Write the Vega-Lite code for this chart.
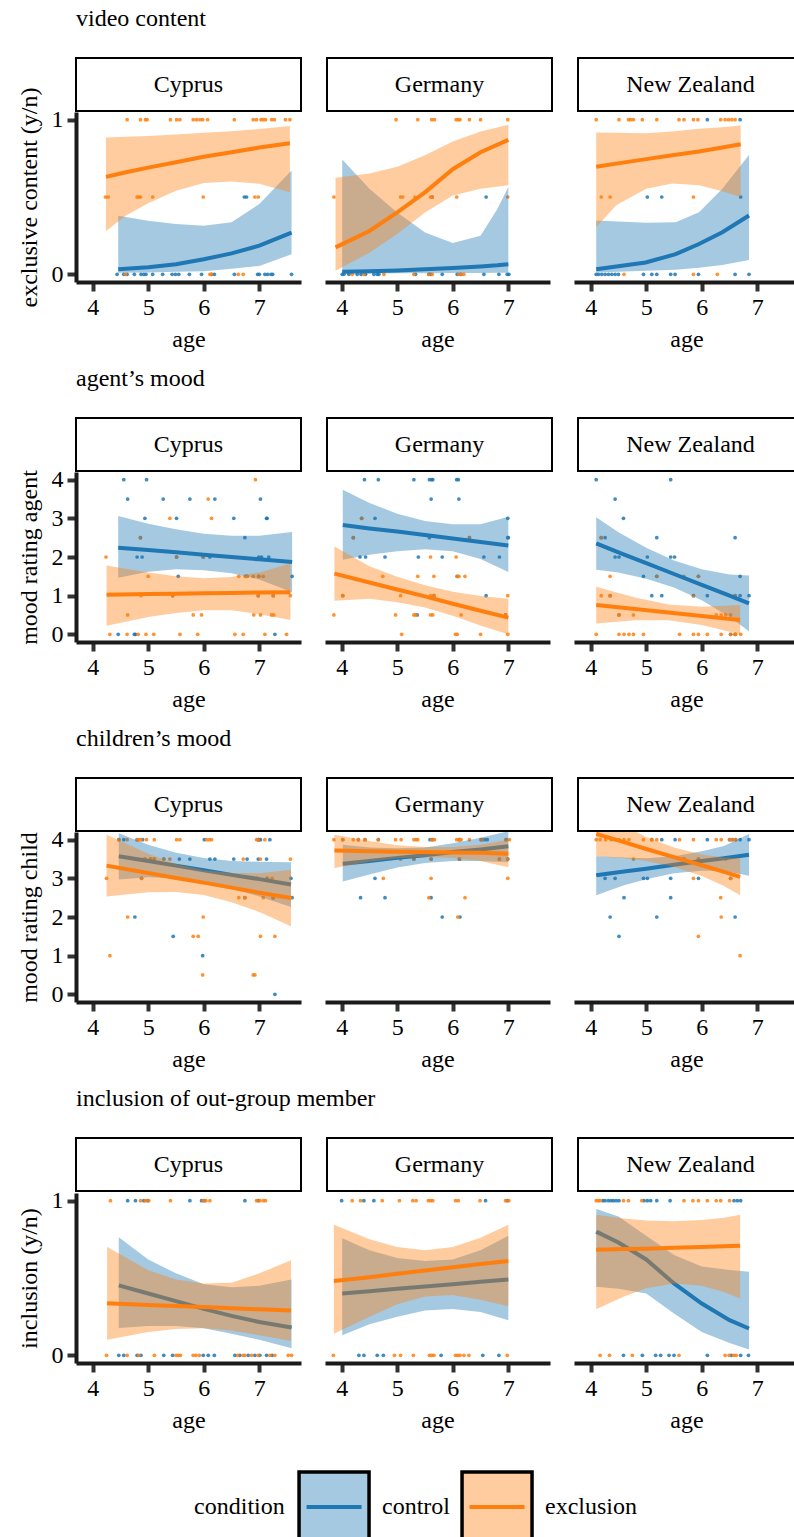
{
"$schema": "https://vega.github.io/schema/vega-lite/v6.json",
"background": "white",
"padding": {"left": 16, "top": 7, "right": 0, "bottom": 0},
"config": {
  "font": "Liberation Serif",
  "view": {"stroke": null},
  "axis": {"labelFont": "Liberation Serif", "labelFontSize": 24, "labelColor": "black", "titleFont": "Liberation Serif", "titleFontSize": 24, "titleFontWeight": "normal", "titleColor": "black", "domainColor": "#1a1a1a", "domainWidth": 4, "tickColor": "#333333", "tickWidth": 4, "tickSize": 9, "grid": false, "labelPadding": 4, "titlePadding": 8, "format": "d"},
  "axisY": {"titlePadding": 10},
  "title": {"font": "Liberation Serif", "fontSize": 24, "fontWeight": "normal", "anchor": "start", "color": "black", "offset": 26, "frame": "group"},
  "text": {"font": "Liberation Serif"}
},
"datasets": {
"d": [
{"m":"video","c":"Cyprus","g":"control","age":6.73,"v":0.5},
{"m":"video","c":"Cyprus","g":"control","age":6.77,"v":0.5},
{"m":"video","c":"Cyprus","g":"control","age":4.44,"v":0},
{"m":"video","c":"Cyprus","g":"control","age":4.56,"v":0},
{"m":"video","c":"Cyprus","g":"control","age":4.62,"v":0},
{"m":"video","c":"Cyprus","g":"control","age":4.75,"v":0},
{"m":"video","c":"Cyprus","g":"control","age":4.87,"v":0},
{"m":"video","c":"Cyprus","g":"control","age":4.92,"v":0},
{"m":"video","c":"Cyprus","g":"control","age":4.96,"v":0},
{"m":"video","c":"Cyprus","g":"control","age":5.08,"v":0},
{"m":"video","c":"Cyprus","g":"control","age":5.26,"v":0},
{"m":"video","c":"Cyprus","g":"control","age":5.43,"v":0},
{"m":"video","c":"Cyprus","g":"control","age":5.49,"v":0},
{"m":"video","c":"Cyprus","g":"control","age":5.55,"v":0},
{"m":"video","c":"Cyprus","g":"control","age":5.74,"v":0},
{"m":"video","c":"Cyprus","g":"control","age":5.96,"v":0},
{"m":"video","c":"Cyprus","g":"control","age":6.14,"v":0},
{"m":"video","c":"Cyprus","g":"control","age":6.19,"v":0},
{"m":"video","c":"Cyprus","g":"control","age":6.55,"v":0},
{"m":"video","c":"Cyprus","g":"control","age":6.97,"v":0},
{"m":"video","c":"Cyprus","g":"control","age":7.00,"v":0},
{"m":"video","c":"Cyprus","g":"control","age":7.10,"v":0},
{"m":"video","c":"Cyprus","g":"control","age":7.15,"v":0},
{"m":"video","c":"Cyprus","g":"control","age":7.21,"v":0},
{"m":"video","c":"Cyprus","g":"control","age":7.24,"v":0},
{"m":"video","c":"Cyprus","g":"control","age":7.58,"v":0},
{"m":"video","c":"Cyprus","g":"exclusion","age":4.62,"v":1},
{"m":"video","c":"Cyprus","g":"exclusion","age":4.86,"v":1},
{"m":"video","c":"Cyprus","g":"exclusion","age":4.95,"v":1},
{"m":"video","c":"Cyprus","g":"exclusion","age":4.98,"v":1},
{"m":"video","c":"Cyprus","g":"exclusion","age":5.40,"v":1},
{"m":"video","c":"Cyprus","g":"exclusion","age":5.51,"v":1},
{"m":"video","c":"Cyprus","g":"exclusion","age":5.57,"v":1},
{"m":"video","c":"Cyprus","g":"exclusion","age":5.81,"v":1},
{"m":"video","c":"Cyprus","g":"exclusion","age":5.87,"v":1},
{"m":"video","c":"Cyprus","g":"exclusion","age":5.93,"v":1},
{"m":"video","c":"Cyprus","g":"exclusion","age":5.98,"v":1},
{"m":"video","c":"Cyprus","g":"exclusion","age":6.07,"v":1},
{"m":"video","c":"Cyprus","g":"exclusion","age":6.55,"v":1},
{"m":"video","c":"Cyprus","g":"exclusion","age":6.89,"v":1},
{"m":"video","c":"Cyprus","g":"exclusion","age":6.95,"v":1},
{"m":"video","c":"Cyprus","g":"exclusion","age":7.03,"v":1},
{"m":"video","c":"Cyprus","g":"exclusion","age":7.07,"v":1},
{"m":"video","c":"Cyprus","g":"exclusion","age":7.11,"v":1},
{"m":"video","c":"Cyprus","g":"exclusion","age":7.22,"v":1},
{"m":"video","c":"Cyprus","g":"exclusion","age":7.27,"v":1},
{"m":"video","c":"Cyprus","g":"exclusion","age":7.47,"v":1},
{"m":"video","c":"Cyprus","g":"exclusion","age":7.55,"v":1},
{"m":"video","c":"Cyprus","g":"exclusion","age":4.23,"v":0.5},
{"m":"video","c":"Cyprus","g":"exclusion","age":4.28,"v":0.5},
{"m":"video","c":"Cyprus","g":"exclusion","age":4.80,"v":0.5},
{"m":"video","c":"Cyprus","g":"exclusion","age":4.83,"v":0.5},
{"m":"video","c":"Cyprus","g":"exclusion","age":4.86,"v":0.5},
{"m":"video","c":"Cyprus","g":"exclusion","age":5.08,"v":0.5},
{"m":"video","c":"Cyprus","g":"exclusion","age":5.99,"v":0.5},
{"m":"video","c":"Cyprus","g":"exclusion","age":6.92,"v":0.5},
{"m":"video","c":"Cyprus","g":"exclusion","age":6.98,"v":0.5},
{"m":"video","c":"Cyprus","g":"exclusion","age":4.59,"v":0},
{"m":"video","c":"Cyprus","g":"exclusion","age":6.11,"v":0},
{"m":"video","c":"Cyprus","g":"exclusion","age":6.14,"v":0},
{"m":"video","c":"Cyprus","g":"exclusion","age":6.62,"v":0},
{"m":"video","c":"Cyprus","g":"exclusion","age":6.71,"v":0},
{"m":"video","c":"Germany","g":"control","age":5.63,"v":0.5},
{"m":"video","c":"Germany","g":"control","age":6.60,"v":0.5},
{"m":"video","c":"Germany","g":"control","age":4.01,"v":0},
{"m":"video","c":"Germany","g":"control","age":4.04,"v":0},
{"m":"video","c":"Germany","g":"control","age":4.13,"v":0},
{"m":"video","c":"Germany","g":"control","age":4.28,"v":0},
{"m":"video","c":"Germany","g":"control","age":4.35,"v":0},
{"m":"video","c":"Germany","g":"control","age":4.43,"v":0},
{"m":"video","c":"Germany","g":"control","age":4.58,"v":0},
{"m":"video","c":"Germany","g":"control","age":4.64,"v":0},
{"m":"video","c":"Germany","g":"control","age":4.67,"v":0},
{"m":"video","c":"Germany","g":"control","age":5.33,"v":0},
{"m":"video","c":"Germany","g":"control","age":5.57,"v":0},
{"m":"video","c":"Germany","g":"control","age":5.60,"v":0},
{"m":"video","c":"Germany","g":"control","age":5.81,"v":0},
{"m":"video","c":"Germany","g":"control","age":6.08,"v":0},
{"m":"video","c":"Germany","g":"control","age":6.14,"v":0},
{"m":"video","c":"Germany","g":"control","age":6.56,"v":0},
{"m":"video","c":"Germany","g":"control","age":6.83,"v":0},
{"m":"video","c":"Germany","g":"control","age":6.98,"v":0},
{"m":"video","c":"Germany","g":"control","age":7.01,"v":0},
{"m":"video","c":"Germany","g":"exclusion","age":4.98,"v":1},
{"m":"video","c":"Germany","g":"exclusion","age":5.37,"v":1},
{"m":"video","c":"Germany","g":"exclusion","age":5.62,"v":1},
{"m":"video","c":"Germany","g":"exclusion","age":5.67,"v":1},
{"m":"video","c":"Germany","g":"exclusion","age":6.06,"v":1},
{"m":"video","c":"Germany","g":"exclusion","age":6.10,"v":1},
{"m":"video","c":"Germany","g":"exclusion","age":6.13,"v":1},
{"m":"video","c":"Germany","g":"exclusion","age":6.30,"v":1},
{"m":"video","c":"Germany","g":"exclusion","age":6.50,"v":1},
{"m":"video","c":"Germany","g":"exclusion","age":6.99,"v":1},
{"m":"video","c":"Germany","g":"exclusion","age":3.86,"v":0.5},
{"m":"video","c":"Germany","g":"exclusion","age":5.06,"v":0.5},
{"m":"video","c":"Germany","g":"exclusion","age":5.10,"v":0.5},
{"m":"video","c":"Germany","g":"exclusion","age":5.32,"v":0.5},
{"m":"video","c":"Germany","g":"exclusion","age":5.60,"v":0.5},
{"m":"video","c":"Germany","g":"exclusion","age":5.63,"v":0.5},
{"m":"video","c":"Germany","g":"exclusion","age":6.07,"v":0.5},
{"m":"video","c":"Germany","g":"exclusion","age":6.99,"v":0.5},
{"m":"video","c":"Germany","g":"exclusion","age":4.19,"v":0},
{"m":"video","c":"Germany","g":"exclusion","age":4.40,"v":0},
{"m":"video","c":"Germany","g":"exclusion","age":4.76,"v":0},
{"m":"video","c":"Germany","g":"exclusion","age":5.30,"v":0},
{"m":"video","c":"Germany","g":"exclusion","age":5.57,"v":0},
{"m":"video","c":"Germany","g":"exclusion","age":5.63,"v":0},
{"m":"video","c":"Germany","g":"exclusion","age":6.11,"v":0},
{"m":"video","c":"Germany","g":"exclusion","age":6.16,"v":0},
{"m":"video","c":"Germany","g":"exclusion","age":6.20,"v":0},
{"m":"video","c":"New Zealand","g":"control","age":6.10,"v":1},
{"m":"video","c":"New Zealand","g":"control","age":6.69,"v":1},
{"m":"video","c":"New Zealand","g":"control","age":5.02,"v":0.5},
{"m":"video","c":"New Zealand","g":"control","age":5.28,"v":0.5},
{"m":"video","c":"New Zealand","g":"control","age":6.70,"v":0.5},
{"m":"video","c":"New Zealand","g":"control","age":4.10,"v":0},
{"m":"video","c":"New Zealand","g":"control","age":4.14,"v":0},
{"m":"video","c":"New Zealand","g":"control","age":4.20,"v":0},
{"m":"video","c":"New Zealand","g":"control","age":4.26,"v":0},
{"m":"video","c":"New Zealand","g":"control","age":4.32,"v":0},
{"m":"video","c":"New Zealand","g":"control","age":4.38,"v":0},
{"m":"video","c":"New Zealand","g":"control","age":4.44,"v":0},
{"m":"video","c":"New Zealand","g":"control","age":4.50,"v":0},
{"m":"video","c":"New Zealand","g":"control","age":4.95,"v":0},
{"m":"video","c":"New Zealand","g":"control","age":5.10,"v":0},
{"m":"video","c":"New Zealand","g":"control","age":5.19,"v":0},
{"m":"video","c":"New Zealand","g":"control","age":5.44,"v":0},
{"m":"video","c":"New Zealand","g":"control","age":5.52,"v":0},
{"m":"video","c":"New Zealand","g":"control","age":5.94,"v":0},
{"m":"video","c":"New Zealand","g":"control","age":6.60,"v":0},
{"m":"video","c":"New Zealand","g":"control","age":6.85,"v":0},
{"m":"video","c":"New Zealand","g":"exclusion","age":4.10,"v":1},
{"m":"video","c":"New Zealand","g":"exclusion","age":4.51,"v":1},
{"m":"video","c":"New Zealand","g":"exclusion","age":4.68,"v":1},
{"m":"video","c":"New Zealand","g":"exclusion","age":4.72,"v":1},
{"m":"video","c":"New Zealand","g":"exclusion","age":4.77,"v":1},
{"m":"video","c":"New Zealand","g":"exclusion","age":4.93,"v":1},
{"m":"video","c":"New Zealand","g":"exclusion","age":5.19,"v":1},
{"m":"video","c":"New Zealand","g":"exclusion","age":5.59,"v":1},
{"m":"video","c":"New Zealand","g":"exclusion","age":5.68,"v":1},
{"m":"video","c":"New Zealand","g":"exclusion","age":5.85,"v":1},
{"m":"video","c":"New Zealand","g":"exclusion","age":5.93,"v":1},
{"m":"video","c":"New Zealand","g":"exclusion","age":6.34,"v":1},
{"m":"video","c":"New Zealand","g":"exclusion","age":6.42,"v":1},
{"m":"video","c":"New Zealand","g":"exclusion","age":6.48,"v":1},
{"m":"video","c":"New Zealand","g":"exclusion","age":6.54,"v":1},
{"m":"video","c":"New Zealand","g":"exclusion","age":6.60,"v":1},
{"m":"video","c":"New Zealand","g":"exclusion","age":4.19,"v":0.5},
{"m":"video","c":"New Zealand","g":"exclusion","age":4.35,"v":0.5},
{"m":"video","c":"New Zealand","g":"exclusion","age":5.85,"v":0.5},
{"m":"video","c":"New Zealand","g":"exclusion","age":4.60,"v":0},
{"m":"video","c":"New Zealand","g":"exclusion","age":5.85,"v":0},
{"m":"video","c":"New Zealand","g":"exclusion","age":6.28,"v":0},
{"m":"agent","c":"Cyprus","g":"control","age":4.56,"v":4},
{"m":"agent","c":"Cyprus","g":"control","age":4.97,"v":4},
{"m":"agent","c":"Cyprus","g":"control","age":4.63,"v":3.5},
{"m":"agent","c":"Cyprus","g":"control","age":5.27,"v":3.5},
{"m":"agent","c":"Cyprus","g":"control","age":5.75,"v":3.5},
{"m":"agent","c":"Cyprus","g":"control","age":6.20,"v":3.5},
{"m":"agent","c":"Cyprus","g":"control","age":7.02,"v":3.5},
{"m":"agent","c":"Cyprus","g":"control","age":4.94,"v":3},
{"m":"agent","c":"Cyprus","g":"control","age":5.51,"v":3},
{"m":"agent","c":"Cyprus","g":"control","age":6.54,"v":3},
{"m":"agent","c":"Cyprus","g":"control","age":7.13,"v":3},
{"m":"agent","c":"Cyprus","g":"control","age":7.14,"v":3},
{"m":"agent","c":"Cyprus","g":"control","age":4.86,"v":2.5},
{"m":"agent","c":"Cyprus","g":"control","age":6.74,"v":2.5},
{"m":"agent","c":"Cyprus","g":"control","age":4.80,"v":2},
{"m":"agent","c":"Cyprus","g":"control","age":4.89,"v":2},
{"m":"agent","c":"Cyprus","g":"control","age":5.51,"v":2},
{"m":"agent","c":"Cyprus","g":"control","age":5.99,"v":2},
{"m":"agent","c":"Cyprus","g":"control","age":6.11,"v":2},
{"m":"agent","c":"Cyprus","g":"control","age":6.99,"v":2},
{"m":"agent","c":"Cyprus","g":"control","age":7.04,"v":2},
{"m":"agent","c":"Cyprus","g":"control","age":7.17,"v":2},
{"m":"agent","c":"Cyprus","g":"control","age":5.54,"v":1.5},
{"m":"agent","c":"Cyprus","g":"control","age":6.75,"v":1.5},
{"m":"agent","c":"Cyprus","g":"control","age":6.78,"v":1.5},
{"m":"agent","c":"Cyprus","g":"control","age":6.99,"v":1.5},
{"m":"agent","c":"Cyprus","g":"control","age":7.59,"v":1.5},
{"m":"agent","c":"Cyprus","g":"control","age":5.44,"v":1},
{"m":"agent","c":"Cyprus","g":"control","age":6.98,"v":1},
{"m":"agent","c":"Cyprus","g":"control","age":7.25,"v":1},
{"m":"agent","c":"Cyprus","g":"control","age":4.46,"v":0},
{"m":"agent","c":"Cyprus","g":"control","age":4.75,"v":0},
{"m":"agent","c":"Cyprus","g":"control","age":4.77,"v":0},
{"m":"agent","c":"Cyprus","g":"control","age":7.28,"v":0},
{"m":"agent","c":"Cyprus","g":"exclusion","age":6.93,"v":4},
{"m":"agent","c":"Cyprus","g":"exclusion","age":6.08,"v":3.5},
{"m":"agent","c":"Cyprus","g":"exclusion","age":5.39,"v":3},
{"m":"agent","c":"Cyprus","g":"exclusion","age":6.14,"v":3},
{"m":"agent","c":"Cyprus","g":"exclusion","age":4.86,"v":2.5},
{"m":"agent","c":"Cyprus","g":"exclusion","age":4.24,"v":2},
{"m":"agent","c":"Cyprus","g":"exclusion","age":5.51,"v":2},
{"m":"agent","c":"Cyprus","g":"exclusion","age":5.99,"v":2},
{"m":"agent","c":"Cyprus","g":"exclusion","age":5.00,"v":1.5},
{"m":"agent","c":"Cyprus","g":"exclusion","age":6.63,"v":1.5},
{"m":"agent","c":"Cyprus","g":"exclusion","age":6.75,"v":1.5},
{"m":"agent","c":"Cyprus","g":"exclusion","age":6.78,"v":1.5},
{"m":"agent","c":"Cyprus","g":"exclusion","age":6.89,"v":1.5},
{"m":"agent","c":"Cyprus","g":"exclusion","age":6.99,"v":1.5},
{"m":"agent","c":"Cyprus","g":"exclusion","age":7.07,"v":1.5},
{"m":"agent","c":"Cyprus","g":"exclusion","age":4.87,"v":1},
{"m":"agent","c":"Cyprus","g":"exclusion","age":5.44,"v":1},
{"m":"agent","c":"Cyprus","g":"exclusion","age":6.98,"v":1},
{"m":"agent","c":"Cyprus","g":"exclusion","age":7.25,"v":1},
{"m":"agent","c":"Cyprus","g":"exclusion","age":7.56,"v":1},
{"m":"agent","c":"Cyprus","g":"exclusion","age":4.63,"v":0.5},
{"m":"agent","c":"Cyprus","g":"exclusion","age":5.81,"v":0.5},
{"m":"agent","c":"Cyprus","g":"exclusion","age":5.96,"v":0.5},
{"m":"agent","c":"Cyprus","g":"exclusion","age":6.90,"v":0.5},
{"m":"agent","c":"Cyprus","g":"exclusion","age":7.02,"v":0.5},
{"m":"agent","c":"Cyprus","g":"exclusion","age":7.22,"v":0.5},
{"m":"agent","c":"Cyprus","g":"exclusion","age":7.26,"v":0.5},
{"m":"agent","c":"Cyprus","g":"exclusion","age":4.31,"v":0},
{"m":"agent","c":"Cyprus","g":"exclusion","age":4.62,"v":0},
{"m":"agent","c":"Cyprus","g":"exclusion","age":4.82,"v":0},
{"m":"agent","c":"Cyprus","g":"exclusion","age":4.96,"v":0},
{"m":"agent","c":"Cyprus","g":"exclusion","age":5.10,"v":0},
{"m":"agent","c":"Cyprus","g":"exclusion","age":5.57,"v":0},
{"m":"agent","c":"Cyprus","g":"exclusion","age":5.89,"v":0},
{"m":"agent","c":"Cyprus","g":"exclusion","age":6.56,"v":0},
{"m":"agent","c":"Cyprus","g":"exclusion","age":6.71,"v":0},
{"m":"agent","c":"Cyprus","g":"exclusion","age":7.10,"v":0},
{"m":"agent","c":"Cyprus","g":"exclusion","age":7.49,"v":0},
{"m":"agent","c":"Germany","g":"control","age":4.41,"v":4},
{"m":"agent","c":"Germany","g":"control","age":4.66,"v":4},
{"m":"agent","c":"Germany","g":"control","age":5.30,"v":4},
{"m":"agent","c":"Germany","g":"control","age":5.58,"v":4},
{"m":"agent","c":"Germany","g":"control","age":5.62,"v":4},
{"m":"agent","c":"Germany","g":"control","age":5.64,"v":4},
{"m":"agent","c":"Germany","g":"control","age":6.07,"v":4},
{"m":"agent","c":"Germany","g":"control","age":6.10,"v":4},
{"m":"agent","c":"Germany","g":"control","age":5.61,"v":3.5},
{"m":"agent","c":"Germany","g":"control","age":6.11,"v":3.5},
{"m":"agent","c":"Germany","g":"control","age":4.36,"v":3},
{"m":"agent","c":"Germany","g":"control","age":4.60,"v":3},
{"m":"agent","c":"Germany","g":"control","age":6.99,"v":3},
{"m":"agent","c":"Germany","g":"control","age":4.21,"v":2.5},
{"m":"agent","c":"Germany","g":"control","age":5.58,"v":2.5},
{"m":"agent","c":"Germany","g":"control","age":6.30,"v":2.5},
{"m":"agent","c":"Germany","g":"control","age":6.99,"v":2.5},
{"m":"agent","c":"Germany","g":"control","age":7.00,"v":2.5},
{"m":"agent","c":"Germany","g":"control","age":4.33,"v":2},
{"m":"agent","c":"Germany","g":"control","age":4.43,"v":2},
{"m":"agent","c":"Germany","g":"control","age":4.78,"v":2},
{"m":"agent","c":"Germany","g":"control","age":5.38,"v":2},
{"m":"agent","c":"Germany","g":"control","age":5.81,"v":2},
{"m":"agent","c":"Germany","g":"control","age":6.56,"v":2},
{"m":"agent","c":"Germany","g":"control","age":6.84,"v":2},
{"m":"agent","c":"Germany","g":"control","age":6.08,"v":1.5},
{"m":"agent","c":"Germany","g":"control","age":4.02,"v":1},
{"m":"agent","c":"Germany","g":"control","age":5.66,"v":1},
{"m":"agent","c":"Germany","g":"control","age":6.60,"v":1},
{"m":"agent","c":"Germany","g":"control","age":5.36,"v":0.5},
{"m":"agent","c":"Germany","g":"control","age":6.95,"v":0.5},
{"m":"agent","c":"Germany","g":"exclusion","age":4.36,"v":3},
{"m":"agent","c":"Germany","g":"exclusion","age":4.21,"v":2.5},
{"m":"agent","c":"Germany","g":"exclusion","age":6.30,"v":2.5},
{"m":"agent","c":"Germany","g":"exclusion","age":5.60,"v":2},
{"m":"agent","c":"Germany","g":"exclusion","age":6.06,"v":2},
{"m":"agent","c":"Germany","g":"exclusion","age":4.74,"v":1.5},
{"m":"agent","c":"Germany","g":"exclusion","age":5.37,"v":1.5},
{"m":"agent","c":"Germany","g":"exclusion","age":5.66,"v":1.5},
{"m":"agent","c":"Germany","g":"exclusion","age":6.08,"v":1.5},
{"m":"agent","c":"Germany","g":"exclusion","age":6.11,"v":1.5},
{"m":"agent","c":"Germany","g":"exclusion","age":6.22,"v":1.5},
{"m":"agent","c":"Germany","g":"exclusion","age":4.02,"v":1},
{"m":"agent","c":"Germany","g":"exclusion","age":5.06,"v":1},
{"m":"agent","c":"Germany","g":"exclusion","age":5.60,"v":1},
{"m":"agent","c":"Germany","g":"exclusion","age":5.66,"v":1},
{"m":"agent","c":"Germany","g":"exclusion","age":6.99,"v":1},
{"m":"agent","c":"Germany","g":"exclusion","age":3.86,"v":0.5},
{"m":"agent","c":"Germany","g":"exclusion","age":4.97,"v":0.5},
{"m":"agent","c":"Germany","g":"exclusion","age":5.30,"v":0.5},
{"m":"agent","c":"Germany","g":"exclusion","age":5.33,"v":0.5},
{"m":"agent","c":"Germany","g":"exclusion","age":5.60,"v":0.5},
{"m":"agent","c":"Germany","g":"exclusion","age":5.64,"v":0.5},
{"m":"agent","c":"Germany","g":"exclusion","age":6.15,"v":0.5},
{"m":"agent","c":"Germany","g":"exclusion","age":6.95,"v":0.5},
{"m":"agent","c":"Germany","g":"exclusion","age":5.08,"v":0},
{"m":"agent","c":"Germany","g":"exclusion","age":6.05,"v":0},
{"m":"agent","c":"Germany","g":"exclusion","age":6.08,"v":0},
{"m":"agent","c":"Germany","g":"exclusion","age":6.50,"v":0},
{"m":"agent","c":"Germany","g":"exclusion","age":6.99,"v":0},
{"m":"agent","c":"New Zealand","g":"control","age":4.10,"v":4},
{"m":"agent","c":"New Zealand","g":"control","age":5.44,"v":4},
{"m":"agent","c":"New Zealand","g":"control","age":4.44,"v":3.5},
{"m":"agent","c":"New Zealand","g":"control","age":4.59,"v":3},
{"m":"agent","c":"New Zealand","g":"control","age":4.19,"v":2.5},
{"m":"agent","c":"New Zealand","g":"control","age":4.26,"v":2.5},
{"m":"agent","c":"New Zealand","g":"control","age":5.19,"v":2.5},
{"m":"agent","c":"New Zealand","g":"control","age":6.60,"v":2.5},
{"m":"agent","c":"New Zealand","g":"control","age":4.44,"v":2},
{"m":"agent","c":"New Zealand","g":"control","age":4.51,"v":2},
{"m":"agent","c":"New Zealand","g":"control","age":5.02,"v":2},
{"m":"agent","c":"New Zealand","g":"control","age":5.44,"v":2},
{"m":"agent","c":"New Zealand","g":"control","age":5.51,"v":2},
{"m":"agent","c":"New Zealand","g":"control","age":4.95,"v":1.5},
{"m":"agent","c":"New Zealand","g":"control","age":5.19,"v":1.5},
{"m":"agent","c":"New Zealand","g":"control","age":5.94,"v":1.5},
{"m":"agent","c":"New Zealand","g":"control","age":6.69,"v":1.5},
{"m":"agent","c":"New Zealand","g":"control","age":4.35,"v":1},
{"m":"agent","c":"New Zealand","g":"control","age":5.10,"v":1},
{"m":"agent","c":"New Zealand","g":"control","age":5.28,"v":1},
{"m":"agent","c":"New Zealand","g":"control","age":5.85,"v":1},
{"m":"agent","c":"New Zealand","g":"control","age":6.10,"v":1},
{"m":"agent","c":"New Zealand","g":"control","age":6.60,"v":1},
{"m":"agent","c":"New Zealand","g":"control","age":6.69,"v":1},
{"m":"agent","c":"New Zealand","g":"control","age":6.85,"v":1},
{"m":"agent","c":"New Zealand","g":"control","age":4.51,"v":0.5},
{"m":"agent","c":"New Zealand","g":"control","age":6.52,"v":0},
{"m":"agent","c":"New Zealand","g":"control","age":6.60,"v":0},
{"m":"agent","c":"New Zealand","g":"exclusion","age":4.19,"v":2.5},
{"m":"agent","c":"New Zealand","g":"exclusion","age":4.35,"v":1.5},
{"m":"agent","c":"New Zealand","g":"exclusion","age":5.19,"v":1.5},
{"m":"agent","c":"New Zealand","g":"exclusion","age":5.68,"v":1.5},
{"m":"agent","c":"New Zealand","g":"exclusion","age":5.94,"v":1.5},
{"m":"agent","c":"New Zealand","g":"exclusion","age":4.19,"v":1},
{"m":"agent","c":"New Zealand","g":"exclusion","age":4.35,"v":1},
{"m":"agent","c":"New Zealand","g":"exclusion","age":5.85,"v":1},
{"m":"agent","c":"New Zealand","g":"exclusion","age":6.60,"v":1},
{"m":"agent","c":"New Zealand","g":"exclusion","age":4.51,"v":0.5},
{"m":"agent","c":"New Zealand","g":"exclusion","age":4.77,"v":0.5},
{"m":"agent","c":"New Zealand","g":"exclusion","age":6.26,"v":0.5},
{"m":"agent","c":"New Zealand","g":"exclusion","age":6.35,"v":0.5},
{"m":"agent","c":"New Zealand","g":"exclusion","age":6.43,"v":0.5},
{"m":"agent","c":"New Zealand","g":"exclusion","age":6.52,"v":0.5},
{"m":"agent","c":"New Zealand","g":"exclusion","age":4.10,"v":0},
{"m":"agent","c":"New Zealand","g":"exclusion","age":4.51,"v":0},
{"m":"agent","c":"New Zealand","g":"exclusion","age":4.60,"v":0},
{"m":"agent","c":"New Zealand","g":"exclusion","age":4.69,"v":0},
{"m":"agent","c":"New Zealand","g":"exclusion","age":4.77,"v":0},
{"m":"agent","c":"New Zealand","g":"exclusion","age":4.95,"v":0},
{"m":"agent","c":"New Zealand","g":"exclusion","age":5.60,"v":0},
{"m":"agent","c":"New Zealand","g":"exclusion","age":5.85,"v":0},
{"m":"agent","c":"New Zealand","g":"exclusion","age":5.94,"v":0},
{"m":"agent","c":"New Zealand","g":"exclusion","age":6.10,"v":0},
{"m":"agent","c":"New Zealand","g":"exclusion","age":6.35,"v":0},
{"m":"agent","c":"New Zealand","g":"exclusion","age":6.52,"v":0},
{"m":"agent","c":"New Zealand","g":"exclusion","age":6.60,"v":0},
{"m":"agent","c":"New Zealand","g":"exclusion","age":6.61,"v":0},
{"m":"agent","c":"New Zealand","g":"exclusion","age":6.70,"v":0},
{"m":"child","c":"Cyprus","g":"control","age":4.47,"v":4},
{"m":"child","c":"Cyprus","g":"control","age":4.56,"v":4},
{"m":"child","c":"Cyprus","g":"control","age":4.80,"v":4},
{"m":"child","c":"Cyprus","g":"control","age":4.90,"v":4},
{"m":"child","c":"Cyprus","g":"control","age":6.01,"v":4},
{"m":"child","c":"Cyprus","g":"control","age":6.98,"v":4},
{"m":"child","c":"Cyprus","g":"control","age":6.99,"v":4},
{"m":"child","c":"Cyprus","g":"control","age":7.02,"v":4},
{"m":"child","c":"Cyprus","g":"control","age":7.19,"v":4},
{"m":"child","c":"Cyprus","g":"control","age":4.94,"v":3.5},
{"m":"child","c":"Cyprus","g":"control","age":5.04,"v":3.5},
{"m":"child","c":"Cyprus","g":"control","age":5.11,"v":3.5},
{"m":"child","c":"Cyprus","g":"control","age":5.28,"v":3.5},
{"m":"child","c":"Cyprus","g":"control","age":5.56,"v":3.5},
{"m":"child","c":"Cyprus","g":"control","age":5.75,"v":3.5},
{"m":"child","c":"Cyprus","g":"control","age":6.11,"v":3.5},
{"m":"child","c":"Cyprus","g":"control","age":6.20,"v":3.5},
{"m":"child","c":"Cyprus","g":"control","age":6.54,"v":3.5},
{"m":"child","c":"Cyprus","g":"control","age":6.78,"v":3.5},
{"m":"child","c":"Cyprus","g":"control","age":6.98,"v":3.5},
{"m":"child","c":"Cyprus","g":"control","age":7.13,"v":3.5},
{"m":"child","c":"Cyprus","g":"control","age":4.88,"v":3},
{"m":"child","c":"Cyprus","g":"control","age":6.96,"v":3},
{"m":"child","c":"Cyprus","g":"control","age":7.14,"v":3},
{"m":"child","c":"Cyprus","g":"control","age":7.57,"v":3},
{"m":"child","c":"Cyprus","g":"control","age":6.74,"v":2.5},
{"m":"child","c":"Cyprus","g":"control","age":7.25,"v":2.5},
{"m":"child","c":"Cyprus","g":"control","age":7.59,"v":2.5},
{"m":"child","c":"Cyprus","g":"control","age":4.76,"v":2},
{"m":"child","c":"Cyprus","g":"control","age":5.45,"v":1.5},
{"m":"child","c":"Cyprus","g":"control","age":5.98,"v":1},
{"m":"child","c":"Cyprus","g":"control","age":7.28,"v":0},
{"m":"child","c":"Cyprus","g":"exclusion","age":4.47,"v":4},
{"m":"child","c":"Cyprus","g":"exclusion","age":4.62,"v":4},
{"m":"child","c":"Cyprus","g":"exclusion","age":4.80,"v":4},
{"m":"child","c":"Cyprus","g":"exclusion","age":4.84,"v":4},
{"m":"child","c":"Cyprus","g":"exclusion","age":4.87,"v":4},
{"m":"child","c":"Cyprus","g":"exclusion","age":4.97,"v":4},
{"m":"child","c":"Cyprus","g":"exclusion","age":5.11,"v":4},
{"m":"child","c":"Cyprus","g":"exclusion","age":5.51,"v":4},
{"m":"child","c":"Cyprus","g":"exclusion","age":5.57,"v":4},
{"m":"child","c":"Cyprus","g":"exclusion","age":6.05,"v":4},
{"m":"child","c":"Cyprus","g":"exclusion","age":6.10,"v":4},
{"m":"child","c":"Cyprus","g":"exclusion","age":6.14,"v":4},
{"m":"child","c":"Cyprus","g":"exclusion","age":6.95,"v":4},
{"m":"child","c":"Cyprus","g":"exclusion","age":6.98,"v":4},
{"m":"child","c":"Cyprus","g":"exclusion","age":7.10,"v":4},
{"m":"child","c":"Cyprus","g":"exclusion","age":4.94,"v":3.5},
{"m":"child","c":"Cyprus","g":"exclusion","age":5.04,"v":3.5},
{"m":"child","c":"Cyprus","g":"exclusion","age":5.11,"v":3.5},
{"m":"child","c":"Cyprus","g":"exclusion","age":5.28,"v":3.5},
{"m":"child","c":"Cyprus","g":"exclusion","age":5.39,"v":3.5},
{"m":"child","c":"Cyprus","g":"exclusion","age":6.71,"v":3.5},
{"m":"child","c":"Cyprus","g":"exclusion","age":7.02,"v":3.5},
{"m":"child","c":"Cyprus","g":"exclusion","age":7.56,"v":3.5},
{"m":"child","c":"Cyprus","g":"exclusion","age":4.25,"v":3},
{"m":"child","c":"Cyprus","g":"exclusion","age":4.88,"v":3},
{"m":"child","c":"Cyprus","g":"exclusion","age":6.96,"v":3},
{"m":"child","c":"Cyprus","g":"exclusion","age":7.14,"v":3},
{"m":"child","c":"Cyprus","g":"exclusion","age":7.23,"v":3},
{"m":"child","c":"Cyprus","g":"exclusion","age":6.63,"v":2.5},
{"m":"child","c":"Cyprus","g":"exclusion","age":6.74,"v":2.5},
{"m":"child","c":"Cyprus","g":"exclusion","age":7.07,"v":2.5},
{"m":"child","c":"Cyprus","g":"exclusion","age":7.25,"v":2.5},
{"m":"child","c":"Cyprus","g":"exclusion","age":7.56,"v":2.5},
{"m":"child","c":"Cyprus","g":"exclusion","age":4.63,"v":2},
{"m":"child","c":"Cyprus","g":"exclusion","age":5.99,"v":2},
{"m":"child","c":"Cyprus","g":"exclusion","age":5.81,"v":1.5},
{"m":"child","c":"Cyprus","g":"exclusion","age":5.90,"v":1.5},
{"m":"child","c":"Cyprus","g":"exclusion","age":7.02,"v":1.5},
{"m":"child","c":"Cyprus","g":"exclusion","age":7.28,"v":1.5},
{"m":"child","c":"Cyprus","g":"exclusion","age":4.31,"v":1},
{"m":"child","c":"Cyprus","g":"exclusion","age":5.98,"v":0.5},
{"m":"child","c":"Cyprus","g":"exclusion","age":6.89,"v":0.5},
{"m":"child","c":"Cyprus","g":"exclusion","age":6.92,"v":0.5},
{"m":"child","c":"Germany","g":"control","age":4.02,"v":4},
{"m":"child","c":"Germany","g":"control","age":4.30,"v":4},
{"m":"child","c":"Germany","g":"control","age":4.42,"v":4},
{"m":"child","c":"Germany","g":"control","age":4.66,"v":4},
{"m":"child","c":"Germany","g":"control","age":5.59,"v":4},
{"m":"child","c":"Germany","g":"control","age":5.64,"v":4},
{"m":"child","c":"Germany","g":"control","age":6.12,"v":4},
{"m":"child","c":"Germany","g":"control","age":6.51,"v":4},
{"m":"child","c":"Germany","g":"control","age":6.57,"v":4},
{"m":"child","c":"Germany","g":"control","age":6.62,"v":4},
{"m":"child","c":"Germany","g":"control","age":6.96,"v":4},
{"m":"child","c":"Germany","g":"control","age":5.30,"v":3.5},
{"m":"child","c":"Germany","g":"control","age":5.61,"v":3.5},
{"m":"child","c":"Germany","g":"control","age":6.12,"v":3.5},
{"m":"child","c":"Germany","g":"control","age":6.84,"v":3.5},
{"m":"child","c":"Germany","g":"control","age":6.99,"v":3.5},
{"m":"child","c":"Germany","g":"control","age":4.60,"v":3},
{"m":"child","c":"Germany","g":"control","age":4.34,"v":2.5},
{"m":"child","c":"Germany","g":"control","age":4.78,"v":2.5},
{"m":"child","c":"Germany","g":"control","age":5.61,"v":2.5},
{"m":"child","c":"Germany","g":"control","age":5.81,"v":2},
{"m":"child","c":"Germany","g":"control","age":6.13,"v":2},
{"m":"child","c":"Germany","g":"exclusion","age":3.86,"v":4},
{"m":"child","c":"Germany","g":"exclusion","age":4.02,"v":4},
{"m":"child","c":"Germany","g":"exclusion","age":4.21,"v":4},
{"m":"child","c":"Germany","g":"exclusion","age":4.30,"v":4},
{"m":"child","c":"Germany","g":"exclusion","age":4.42,"v":4},
{"m":"child","c":"Germany","g":"exclusion","age":4.66,"v":4},
{"m":"child","c":"Germany","g":"exclusion","age":4.97,"v":4},
{"m":"child","c":"Germany","g":"exclusion","age":5.07,"v":4},
{"m":"child","c":"Germany","g":"exclusion","age":5.30,"v":4},
{"m":"child","c":"Germany","g":"exclusion","age":5.34,"v":4},
{"m":"child","c":"Germany","g":"exclusion","age":5.37,"v":4},
{"m":"child","c":"Germany","g":"exclusion","age":5.62,"v":4},
{"m":"child","c":"Germany","g":"exclusion","age":5.67,"v":4},
{"m":"child","c":"Germany","g":"exclusion","age":6.07,"v":4},
{"m":"child","c":"Germany","g":"exclusion","age":6.11,"v":4},
{"m":"child","c":"Germany","g":"exclusion","age":6.12,"v":4},
{"m":"child","c":"Germany","g":"exclusion","age":6.15,"v":4},
{"m":"child","c":"Germany","g":"exclusion","age":6.30,"v":4},
{"m":"child","c":"Germany","g":"exclusion","age":6.51,"v":4},
{"m":"child","c":"Germany","g":"exclusion","age":6.54,"v":4},
{"m":"child","c":"Germany","g":"exclusion","age":6.96,"v":4},
{"m":"child","c":"Germany","g":"exclusion","age":7.02,"v":4},
{"m":"child","c":"Germany","g":"exclusion","age":5.06,"v":3.5},
{"m":"child","c":"Germany","g":"exclusion","age":5.30,"v":3.5},
{"m":"child","c":"Germany","g":"exclusion","age":5.61,"v":3.5},
{"m":"child","c":"Germany","g":"exclusion","age":6.12,"v":3.5},
{"m":"child","c":"Germany","g":"exclusion","age":6.84,"v":3.5},
{"m":"child","c":"Germany","g":"exclusion","age":6.99,"v":3.5},
{"m":"child","c":"Germany","g":"exclusion","age":4.75,"v":3},
{"m":"child","c":"Germany","g":"exclusion","age":5.61,"v":3},
{"m":"child","c":"Germany","g":"exclusion","age":6.99,"v":3},
{"m":"child","c":"Germany","g":"exclusion","age":5.57,"v":2.5},
{"m":"child","c":"Germany","g":"exclusion","age":6.22,"v":2.5},
{"m":"child","c":"Germany","g":"exclusion","age":6.09,"v":2},
{"m":"child","c":"New Zealand","g":"control","age":5.10,"v":4},
{"m":"child","c":"New Zealand","g":"control","age":5.28,"v":4},
{"m":"child","c":"New Zealand","g":"control","age":5.52,"v":4},
{"m":"child","c":"New Zealand","g":"control","age":6.10,"v":4},
{"m":"child","c":"New Zealand","g":"control","age":6.50,"v":4},
{"m":"child","c":"New Zealand","g":"control","age":6.55,"v":4},
{"m":"child","c":"New Zealand","g":"control","age":6.61,"v":4},
{"m":"child","c":"New Zealand","g":"control","age":6.69,"v":4},
{"m":"child","c":"New Zealand","g":"control","age":6.85,"v":4},
{"m":"child","c":"New Zealand","g":"control","age":5.68,"v":3.5},
{"m":"child","c":"New Zealand","g":"control","age":5.94,"v":3.5},
{"m":"child","c":"New Zealand","g":"control","age":4.26,"v":3},
{"m":"child","c":"New Zealand","g":"control","age":4.44,"v":3},
{"m":"child","c":"New Zealand","g":"control","age":4.95,"v":3},
{"m":"child","c":"New Zealand","g":"control","age":5.02,"v":3},
{"m":"child","c":"New Zealand","g":"control","age":5.44,"v":3},
{"m":"child","c":"New Zealand","g":"control","age":5.94,"v":3},
{"m":"child","c":"New Zealand","g":"control","age":6.52,"v":3},
{"m":"child","c":"New Zealand","g":"control","age":4.60,"v":2.5},
{"m":"child","c":"New Zealand","g":"control","age":5.44,"v":2.5},
{"m":"child","c":"New Zealand","g":"control","age":4.35,"v":2},
{"m":"child","c":"New Zealand","g":"control","age":5.19,"v":2},
{"m":"child","c":"New Zealand","g":"control","age":6.60,"v":2},
{"m":"child","c":"New Zealand","g":"control","age":4.51,"v":1.5},
{"m":"child","c":"New Zealand","g":"exclusion","age":4.10,"v":4},
{"m":"child","c":"New Zealand","g":"exclusion","age":4.17,"v":4},
{"m":"child","c":"New Zealand","g":"exclusion","age":4.27,"v":4},
{"m":"child","c":"New Zealand","g":"exclusion","age":4.37,"v":4},
{"m":"child","c":"New Zealand","g":"exclusion","age":4.44,"v":4},
{"m":"child","c":"New Zealand","g":"exclusion","age":4.51,"v":4},
{"m":"child","c":"New Zealand","g":"exclusion","age":4.60,"v":4},
{"m":"child","c":"New Zealand","g":"exclusion","age":4.69,"v":4},
{"m":"child","c":"New Zealand","g":"exclusion","age":4.95,"v":4},
{"m":"child","c":"New Zealand","g":"exclusion","age":5.10,"v":4},
{"m":"child","c":"New Zealand","g":"exclusion","age":5.19,"v":4},
{"m":"child","c":"New Zealand","g":"exclusion","age":5.60,"v":4},
{"m":"child","c":"New Zealand","g":"exclusion","age":5.85,"v":4},
{"m":"child","c":"New Zealand","g":"exclusion","age":6.26,"v":4},
{"m":"child","c":"New Zealand","g":"exclusion","age":6.35,"v":4},
{"m":"child","c":"New Zealand","g":"exclusion","age":6.50,"v":4},
{"m":"child","c":"New Zealand","g":"exclusion","age":6.55,"v":4},
{"m":"child","c":"New Zealand","g":"exclusion","age":6.61,"v":4},
{"m":"child","c":"New Zealand","g":"exclusion","age":4.77,"v":3.5},
{"m":"child","c":"New Zealand","g":"exclusion","age":5.68,"v":3.5},
{"m":"child","c":"New Zealand","g":"exclusion","age":5.94,"v":3.5},
{"m":"child","c":"New Zealand","g":"exclusion","age":6.43,"v":3.5},
{"m":"child","c":"New Zealand","g":"exclusion","age":5.85,"v":3},
{"m":"child","c":"New Zealand","g":"exclusion","age":6.52,"v":3},
{"m":"child","c":"New Zealand","g":"exclusion","age":6.34,"v":2.5},
{"m":"child","c":"New Zealand","g":"exclusion","age":6.35,"v":2},
{"m":"child","c":"New Zealand","g":"exclusion","age":5.94,"v":1.5},
{"m":"child","c":"New Zealand","g":"exclusion","age":6.69,"v":1},
{"m":"incl","c":"Cyprus","g":"control","age":4.63,"v":1},
{"m":"incl","c":"Cyprus","g":"control","age":4.77,"v":1},
{"m":"incl","c":"Cyprus","g":"control","age":4.92,"v":1},
{"m":"incl","c":"Cyprus","g":"control","age":4.99,"v":1},
{"m":"incl","c":"Cyprus","g":"control","age":5.75,"v":1},
{"m":"incl","c":"Cyprus","g":"control","age":5.96,"v":1},
{"m":"incl","c":"Cyprus","g":"control","age":6.01,"v":1},
{"m":"incl","c":"Cyprus","g":"control","age":6.74,"v":1},
{"m":"incl","c":"Cyprus","g":"control","age":6.98,"v":1},
{"m":"incl","c":"Cyprus","g":"control","age":4.47,"v":0},
{"m":"incl","c":"Cyprus","g":"control","age":4.56,"v":0},
{"m":"incl","c":"Cyprus","g":"control","age":4.80,"v":0},
{"m":"incl","c":"Cyprus","g":"control","age":4.87,"v":0},
{"m":"incl","c":"Cyprus","g":"control","age":5.28,"v":0},
{"m":"incl","c":"Cyprus","g":"control","age":5.44,"v":0},
{"m":"incl","c":"Cyprus","g":"control","age":5.99,"v":0},
{"m":"incl","c":"Cyprus","g":"control","age":6.08,"v":0},
{"m":"incl","c":"Cyprus","g":"control","age":6.19,"v":0},
{"m":"incl","c":"Cyprus","g":"control","age":6.56,"v":0},
{"m":"incl","c":"Cyprus","g":"control","age":6.65,"v":0},
{"m":"incl","c":"Cyprus","g":"control","age":6.80,"v":0},
{"m":"incl","c":"Cyprus","g":"control","age":6.92,"v":0},
{"m":"incl","c":"Cyprus","g":"control","age":7.01,"v":0},
{"m":"incl","c":"Cyprus","g":"control","age":7.13,"v":0},
{"m":"incl","c":"Cyprus","g":"control","age":7.23,"v":0},
{"m":"incl","c":"Cyprus","g":"exclusion","age":4.32,"v":1},
{"m":"incl","c":"Cyprus","g":"exclusion","age":4.86,"v":1},
{"m":"incl","c":"Cyprus","g":"exclusion","age":4.95,"v":1},
{"m":"incl","c":"Cyprus","g":"exclusion","age":5.01,"v":1},
{"m":"incl","c":"Cyprus","g":"exclusion","age":5.40,"v":1},
{"m":"incl","c":"Cyprus","g":"exclusion","age":5.99,"v":1},
{"m":"incl","c":"Cyprus","g":"exclusion","age":6.04,"v":1},
{"m":"incl","c":"Cyprus","g":"exclusion","age":6.11,"v":1},
{"m":"incl","c":"Cyprus","g":"exclusion","age":6.95,"v":1},
{"m":"incl","c":"Cyprus","g":"exclusion","age":7.01,"v":1},
{"m":"incl","c":"Cyprus","g":"exclusion","age":7.07,"v":1},
{"m":"incl","c":"Cyprus","g":"exclusion","age":7.11,"v":1},
{"m":"incl","c":"Cyprus","g":"exclusion","age":4.25,"v":0},
{"m":"incl","c":"Cyprus","g":"exclusion","age":4.62,"v":0},
{"m":"incl","c":"Cyprus","g":"exclusion","age":4.83,"v":0},
{"m":"incl","c":"Cyprus","g":"exclusion","age":5.11,"v":0},
{"m":"incl","c":"Cyprus","g":"exclusion","age":5.50,"v":0},
{"m":"incl","c":"Cyprus","g":"exclusion","age":5.54,"v":0},
{"m":"incl","c":"Cyprus","g":"exclusion","age":5.58,"v":0},
{"m":"incl","c":"Cyprus","g":"exclusion","age":5.81,"v":0},
{"m":"incl","c":"Cyprus","g":"exclusion","age":5.86,"v":0},
{"m":"incl","c":"Cyprus","g":"exclusion","age":5.92,"v":0},
{"m":"incl","c":"Cyprus","g":"exclusion","age":6.61,"v":0},
{"m":"incl","c":"Cyprus","g":"exclusion","age":6.71,"v":0},
{"m":"incl","c":"Cyprus","g":"exclusion","age":6.74,"v":0},
{"m":"incl","c":"Cyprus","g":"exclusion","age":6.86,"v":0},
{"m":"incl","c":"Cyprus","g":"exclusion","age":6.98,"v":0},
{"m":"incl","c":"Cyprus","g":"exclusion","age":7.19,"v":0},
{"m":"incl","c":"Cyprus","g":"exclusion","age":7.28,"v":0},
{"m":"incl","c":"Cyprus","g":"exclusion","age":7.52,"v":0},
{"m":"incl","c":"Cyprus","g":"exclusion","age":7.58,"v":0},
{"m":"incl","c":"Germany","g":"control","age":4.00,"v":1},
{"m":"incl","c":"Germany","g":"control","age":4.40,"v":1},
{"m":"incl","c":"Germany","g":"control","age":4.58,"v":1},
{"m":"incl","c":"Germany","g":"control","age":6.59,"v":1},
{"m":"incl","c":"Germany","g":"control","age":6.98,"v":1},
{"m":"incl","c":"Germany","g":"control","age":4.31,"v":0},
{"m":"incl","c":"Germany","g":"control","age":4.40,"v":0},
{"m":"incl","c":"Germany","g":"control","age":4.64,"v":0},
{"m":"incl","c":"Germany","g":"control","age":4.75,"v":0},
{"m":"incl","c":"Germany","g":"control","age":5.79,"v":0},
{"m":"incl","c":"Germany","g":"control","age":6.54,"v":0},
{"m":"incl","c":"Germany","g":"control","age":6.83,"v":0},
{"m":"incl","c":"Germany","g":"exclusion","age":4.19,"v":1},
{"m":"incl","c":"Germany","g":"exclusion","age":4.34,"v":1},
{"m":"incl","c":"Germany","g":"exclusion","age":4.73,"v":1},
{"m":"incl","c":"Germany","g":"exclusion","age":5.04,"v":1},
{"m":"incl","c":"Germany","g":"exclusion","age":5.28,"v":1},
{"m":"incl","c":"Germany","g":"exclusion","age":5.34,"v":1},
{"m":"incl","c":"Germany","g":"exclusion","age":5.56,"v":1},
{"m":"incl","c":"Germany","g":"exclusion","age":5.60,"v":1},
{"m":"incl","c":"Germany","g":"exclusion","age":5.64,"v":1},
{"m":"incl","c":"Germany","g":"exclusion","age":6.05,"v":1},
{"m":"incl","c":"Germany","g":"exclusion","age":6.10,"v":1},
{"m":"incl","c":"Germany","g":"exclusion","age":6.49,"v":1},
{"m":"incl","c":"Germany","g":"exclusion","age":6.95,"v":1},
{"m":"incl","c":"Germany","g":"exclusion","age":7.01,"v":1},
{"m":"incl","c":"Germany","g":"exclusion","age":3.85,"v":0},
{"m":"incl","c":"Germany","g":"exclusion","age":4.95,"v":0},
{"m":"incl","c":"Germany","g":"exclusion","age":5.06,"v":0},
{"m":"incl","c":"Germany","g":"exclusion","age":5.29,"v":0},
{"m":"incl","c":"Germany","g":"exclusion","age":5.58,"v":0},
{"m":"incl","c":"Germany","g":"exclusion","age":5.62,"v":0},
{"m":"incl","c":"Germany","g":"exclusion","age":5.66,"v":0},
{"m":"incl","c":"Germany","g":"exclusion","age":6.05,"v":0},
{"m":"incl","c":"Germany","g":"exclusion","age":6.09,"v":0},
{"m":"incl","c":"Germany","g":"exclusion","age":6.13,"v":0},
{"m":"incl","c":"Germany","g":"exclusion","age":6.20,"v":0},
{"m":"incl","c":"Germany","g":"exclusion","age":6.29,"v":0},
{"m":"incl","c":"Germany","g":"exclusion","age":6.98,"v":0},
{"m":"incl","c":"New Zealand","g":"control","age":4.22,"v":1},
{"m":"incl","c":"New Zealand","g":"control","age":4.26,"v":1},
{"m":"incl","c":"New Zealand","g":"control","age":4.32,"v":1},
{"m":"incl","c":"New Zealand","g":"control","age":4.37,"v":1},
{"m":"incl","c":"New Zealand","g":"control","age":4.41,"v":1},
{"m":"incl","c":"New Zealand","g":"control","age":4.46,"v":1},
{"m":"incl","c":"New Zealand","g":"control","age":4.51,"v":1},
{"m":"incl","c":"New Zealand","g":"control","age":4.96,"v":1},
{"m":"incl","c":"New Zealand","g":"control","age":5.02,"v":1},
{"m":"incl","c":"New Zealand","g":"control","age":5.08,"v":1},
{"m":"incl","c":"New Zealand","g":"control","age":5.19,"v":1},
{"m":"incl","c":"New Zealand","g":"control","age":5.43,"v":1},
{"m":"incl","c":"New Zealand","g":"control","age":6.58,"v":1},
{"m":"incl","c":"New Zealand","g":"control","age":6.64,"v":1},
{"m":"incl","c":"New Zealand","g":"control","age":6.70,"v":1},
{"m":"incl","c":"New Zealand","g":"control","age":4.59,"v":0},
{"m":"incl","c":"New Zealand","g":"control","age":4.93,"v":0},
{"m":"incl","c":"New Zealand","g":"control","age":5.17,"v":0},
{"m":"incl","c":"New Zealand","g":"control","age":5.26,"v":0},
{"m":"incl","c":"New Zealand","g":"control","age":5.41,"v":0},
{"m":"incl","c":"New Zealand","g":"control","age":5.50,"v":0},
{"m":"incl","c":"New Zealand","g":"control","age":6.10,"v":0},
{"m":"incl","c":"New Zealand","g":"control","age":6.53,"v":0},
{"m":"incl","c":"New Zealand","g":"control","age":6.70,"v":0},
{"m":"incl","c":"New Zealand","g":"control","age":6.84,"v":0},
{"m":"incl","c":"New Zealand","g":"exclusion","age":4.10,"v":1},
{"m":"incl","c":"New Zealand","g":"exclusion","age":4.14,"v":1},
{"m":"incl","c":"New Zealand","g":"exclusion","age":4.17,"v":1},
{"m":"incl","c":"New Zealand","g":"exclusion","age":4.59,"v":1},
{"m":"incl","c":"New Zealand","g":"exclusion","age":4.68,"v":1},
{"m":"incl","c":"New Zealand","g":"exclusion","age":4.92,"v":1},
{"m":"incl","c":"New Zealand","g":"exclusion","age":5.68,"v":1},
{"m":"incl","c":"New Zealand","g":"exclusion","age":5.84,"v":1},
{"m":"incl","c":"New Zealand","g":"exclusion","age":5.94,"v":1},
{"m":"incl","c":"New Zealand","g":"exclusion","age":6.10,"v":1},
{"m":"incl","c":"New Zealand","g":"exclusion","age":6.26,"v":1},
{"m":"incl","c":"New Zealand","g":"exclusion","age":6.34,"v":1},
{"m":"incl","c":"New Zealand","g":"exclusion","age":6.50,"v":1},
{"m":"incl","c":"New Zealand","g":"exclusion","age":4.17,"v":0},
{"m":"incl","c":"New Zealand","g":"exclusion","age":4.34,"v":0},
{"m":"incl","c":"New Zealand","g":"exclusion","age":4.75,"v":0},
{"m":"incl","c":"New Zealand","g":"exclusion","age":5.59,"v":0},
{"m":"incl","c":"New Zealand","g":"exclusion","age":6.42,"v":0},
{"m":"incl","c":"New Zealand","g":"exclusion","age":6.49,"v":0},
{"m":"incl","c":"New Zealand","g":"exclusion","age":6.58,"v":0},
{"m":"incl","c":"New Zealand","g":"exclusion","age":6.62,"v":0},
{"m":"video","c":"Cyprus","g":"control","age":4.46,"fit":0.032,"lo":0.01,"hi":0.379},
{"m":"video","c":"Cyprus","g":"control","age":5.0,"fit":0.045,"lo":0.012,"hi":0.346},
{"m":"video","c":"Cyprus","g":"control","age":5.5,"fit":0.065,"lo":0.016,"hi":0.325},
{"m":"video","c":"Cyprus","g":"control","age":6.0,"fit":0.097,"lo":0.02,"hi":0.314},
{"m":"video","c":"Cyprus","g":"control","age":6.5,"fit":0.135,"lo":0.035,"hi":0.336},
{"m":"video","c":"Cyprus","g":"control","age":7.0,"fit":0.185,"lo":0.054,"hi":0.455},
{"m":"video","c":"Cyprus","g":"control","age":7.58,"fit":0.27,"lo":0.13,"hi":0.671},
{"m":"video","c":"Cyprus","g":"exclusion","age":4.24,"fit":0.63,"lo":0.28,"hi":0.885},
{"m":"video","c":"Cyprus","g":"exclusion","age":4.6,"fit":0.66,"lo":0.38,"hi":0.89},
{"m":"video","c":"Cyprus","g":"exclusion","age":5.0,"fit":0.69,"lo":0.46,"hi":0.895},
{"m":"video","c":"Cyprus","g":"exclusion","age":5.5,"fit":0.725,"lo":0.54,"hi":0.905},
{"m":"video","c":"Cyprus","g":"exclusion","age":6.0,"fit":0.76,"lo":0.59,"hi":0.915},
{"m":"video","c":"Cyprus","g":"exclusion","age":6.5,"fit":0.79,"lo":0.6,"hi":0.925},
{"m":"video","c":"Cyprus","g":"exclusion","age":7.0,"fit":0.82,"lo":0.585,"hi":0.94},
{"m":"video","c":"Cyprus","g":"exclusion","age":7.55,"fit":0.848,"lo":0.53,"hi":0.96},
{"m":"video","c":"Germany","g":"control","age":4.01,"fit":0.017,"lo":0.005,"hi":0.743},
{"m":"video","c":"Germany","g":"control","age":4.5,"fit":0.02,"lo":0.005,"hi":0.554},
{"m":"video","c":"Germany","g":"control","age":5.0,"fit":0.025,"lo":0.006,"hi":0.40},
{"m":"video","c":"Germany","g":"control","age":5.5,"fit":0.032,"lo":0.007,"hi":0.27},
{"m":"video","c":"Germany","g":"control","age":6.0,"fit":0.04,"lo":0.008,"hi":0.202},
{"m":"video","c":"Germany","g":"control","age":6.5,"fit":0.051,"lo":0.009,"hi":0.25},
{"m":"video","c":"Germany","g":"control","age":6.8,"fit":0.058,"lo":0.01,"hi":0.42},
{"m":"video","c":"Germany","g":"control","age":7.0,"fit":0.065,"lo":0.01,"hi":0.565},
{"m":"video","c":"Germany","g":"exclusion","age":3.89,"fit":0.174,"lo":0.022,"hi":0.624},
{"m":"video","c":"Germany","g":"exclusion","age":4.5,"fit":0.28,"lo":0.14,"hi":0.652},
{"m":"video","c":"Germany","g":"exclusion","age":5.0,"fit":0.40,"lo":0.26,"hi":0.696},
{"m":"video","c":"Germany","g":"exclusion","age":5.5,"fit":0.53,"lo":0.40,"hi":0.77},
{"m":"video","c":"Germany","g":"exclusion","age":6.0,"fit":0.68,"lo":0.51,"hi":0.859},
{"m":"video","c":"Germany","g":"exclusion","age":6.5,"fit":0.79,"lo":0.554,"hi":0.924},
{"m":"video","c":"Germany","g":"exclusion","age":7.0,"fit":0.87,"lo":0.576,"hi":0.967},
{"m":"video","c":"New Zealand","g":"control","age":4.1,"fit":0.033,"lo":0.011,"hi":0.348},
{"m":"video","c":"New Zealand","g":"control","age":4.99,"fit":0.076,"lo":0.022,"hi":0.333},
{"m":"video","c":"New Zealand","g":"control","age":5.53,"fit":0.13,"lo":0.03,"hi":0.337},
{"m":"video","c":"New Zealand","g":"control","age":5.95,"fit":0.196,"lo":0.043,"hi":0.402},
{"m":"video","c":"New Zealand","g":"control","age":6.37,"fit":0.272,"lo":0.06,"hi":0.554},
{"m":"video","c":"New Zealand","g":"control","age":6.85,"fit":0.38,"lo":0.093,"hi":0.772},
{"m":"video","c":"New Zealand","g":"exclusion","age":4.1,"fit":0.696,"lo":0.304,"hi":0.917},
{"m":"video","c":"New Zealand","g":"exclusion","age":4.46,"fit":0.716,"lo":0.446,"hi":0.915},
{"m":"video","c":"New Zealand","g":"exclusion","age":5.0,"fit":0.745,"lo":0.554,"hi":0.913},
{"m":"video","c":"New Zealand","g":"exclusion","age":5.47,"fit":0.77,"lo":0.587,"hi":0.924},
{"m":"video","c":"New Zealand","g":"exclusion","age":5.95,"fit":0.795,"lo":0.576,"hi":0.941},
{"m":"video","c":"New Zealand","g":"exclusion","age":6.37,"fit":0.82,"lo":0.537,"hi":0.952},
{"m":"video","c":"New Zealand","g":"exclusion","age":6.7,"fit":0.841,"lo":0.50,"hi":0.963},
{"m":"agent","c":"Cyprus","g":"control","age":4.46,"fit":2.24,"lo":1.46,"hi":3.06},
{"m":"agent","c":"Cyprus","g":"control","age":5.0,"fit":2.18,"lo":1.62,"hi":2.86},
{"m":"agent","c":"Cyprus","g":"control","age":5.5,"fit":2.12,"lo":1.68,"hi":2.72},
{"m":"agent","c":"Cyprus","g":"control","age":6.0,"fit":2.06,"lo":1.66,"hi":2.60},
{"m":"agent","c":"Cyprus","g":"control","age":6.5,"fit":2.0,"lo":1.58,"hi":2.55},
{"m":"agent","c":"Cyprus","g":"control","age":7.0,"fit":1.94,"lo":1.42,"hi":2.55},
{"m":"agent","c":"Cyprus","g":"control","age":7.59,"fit":1.87,"lo":1.09,"hi":2.65},
{"m":"agent","c":"Cyprus","g":"exclusion","age":4.25,"fit":1.02,"lo":0.22,"hi":1.78},
{"m":"agent","c":"Cyprus","g":"exclusion","age":5.0,"fit":1.04,"lo":0.45,"hi":1.60},
{"m":"agent","c":"Cyprus","g":"exclusion","age":5.5,"fit":1.05,"lo":0.55,"hi":1.50},
{"m":"agent","c":"Cyprus","g":"exclusion","age":6.0,"fit":1.06,"lo":0.62,"hi":1.45},
{"m":"agent","c":"Cyprus","g":"exclusion","age":6.5,"fit":1.07,"lo":0.62,"hi":1.48},
{"m":"agent","c":"Cyprus","g":"exclusion","age":7.0,"fit":1.08,"lo":0.52,"hi":1.60},
{"m":"agent","c":"Cyprus","g":"exclusion","age":7.56,"fit":1.09,"lo":0.37,"hi":1.83},
{"m":"agent","c":"Germany","g":"control","age":4.02,"fit":2.83,"lo":1.93,"hi":3.74},
{"m":"agent","c":"Germany","g":"control","age":4.5,"fit":2.74,"lo":2.06,"hi":3.40},
{"m":"agent","c":"Germany","g":"control","age":5.0,"fit":2.66,"lo":2.15,"hi":3.12},
{"m":"agent","c":"Germany","g":"control","age":5.5,"fit":2.57,"lo":2.20,"hi":2.93},
{"m":"agent","c":"Germany","g":"control","age":6.0,"fit":2.48,"lo":2.15,"hi":2.85},
{"m":"agent","c":"Germany","g":"control","age":6.5,"fit":2.39,"lo":1.95,"hi":2.85},
{"m":"agent","c":"Germany","g":"control","age":7.0,"fit":2.30,"lo":1.61,"hi":3.04},
{"m":"agent","c":"Germany","g":"exclusion","age":3.87,"fit":1.57,"lo":0.87,"hi":2.27},
{"m":"agent","c":"Germany","g":"exclusion","age":4.5,"fit":1.34,"lo":0.92,"hi":1.76},
{"m":"agent","c":"Germany","g":"exclusion","age":5.0,"fit":1.16,"lo":0.83,"hi":1.49},
{"m":"agent","c":"Germany","g":"exclusion","age":5.5,"fit":0.98,"lo":0.69,"hi":1.27},
{"m":"agent","c":"Germany","g":"exclusion","age":6.0,"fit":0.79,"lo":0.48,"hi":1.10},
{"m":"agent","c":"Germany","g":"exclusion","age":6.5,"fit":0.61,"lo":0.23,"hi":0.99},
{"m":"agent","c":"Germany","g":"exclusion","age":7.0,"fit":0.43,"lo":0.0,"hi":0.92},
{"m":"agent","c":"New Zealand","g":"control","age":4.1,"fit":2.35,"lo":1.67,"hi":3.03},
{"m":"agent","c":"New Zealand","g":"control","age":4.5,"fit":2.12,"lo":1.60,"hi":2.64},
{"m":"agent","c":"New Zealand","g":"control","age":5.0,"fit":1.84,"lo":1.44,"hi":2.24},
{"m":"agent","c":"New Zealand","g":"control","age":5.5,"fit":1.56,"lo":1.21,"hi":1.91},
{"m":"agent","c":"New Zealand","g":"control","age":6.0,"fit":1.28,"lo":0.88,"hi":1.68},
{"m":"agent","c":"New Zealand","g":"control","age":6.5,"fit":1.0,"lo":0.45,"hi":1.55},
{"m":"agent","c":"New Zealand","g":"control","age":6.85,"fit":0.80,"lo":0.08,"hi":1.52},
{"m":"agent","c":"New Zealand","g":"exclusion","age":4.1,"fit":0.76,"lo":0.28,"hi":1.23},
{"m":"agent","c":"New Zealand","g":"exclusion","age":4.8,"fit":0.655,"lo":0.36,"hi":0.95},
{"m":"agent","c":"New Zealand","g":"exclusion","age":5.4,"fit":0.565,"lo":0.36,"hi":0.77},
{"m":"agent","c":"New Zealand","g":"exclusion","age":6.0,"fit":0.475,"lo":0.24,"hi":0.71},
{"m":"agent","c":"New Zealand","g":"exclusion","age":6.69,"fit":0.37,"lo":0.0,"hi":0.76},
{"m":"child","c":"Cyprus","g":"control","age":4.47,"fit":3.57,"lo":2.97,"hi":4.17},
{"m":"child","c":"Cyprus","g":"control","age":5.0,"fit":3.45,"lo":3.03,"hi":3.87},
{"m":"child","c":"Cyprus","g":"control","age":5.5,"fit":3.33,"lo":3.0,"hi":3.66},
{"m":"child","c":"Cyprus","g":"control","age":6.0,"fit":3.21,"lo":2.89,"hi":3.53},
{"m":"child","c":"Cyprus","g":"control","age":6.5,"fit":3.09,"lo":2.73,"hi":3.45},
{"m":"child","c":"Cyprus","g":"control","age":7.0,"fit":2.98,"lo":2.53,"hi":3.43},
{"m":"child","c":"Cyprus","g":"control","age":7.57,"fit":2.84,"lo":2.26,"hi":3.42},
{"m":"child","c":"Cyprus","g":"exclusion","age":4.25,"fit":3.33,"lo":2.53,"hi":4.13},
{"m":"child","c":"Cyprus","g":"exclusion","age":5.0,"fit":3.14,"lo":2.64,"hi":3.64},
{"m":"child","c":"Cyprus","g":"exclusion","age":5.5,"fit":3.01,"lo":2.65,"hi":3.37},
{"m":"child","c":"Cyprus","g":"exclusion","age":6.0,"fit":2.89,"lo":2.57,"hi":3.21},
{"m":"child","c":"Cyprus","g":"exclusion","age":6.5,"fit":2.76,"lo":2.38,"hi":3.14},
{"m":"child","c":"Cyprus","g":"exclusion","age":7.0,"fit":2.63,"lo":2.13,"hi":3.13},
{"m":"child","c":"Cyprus","g":"exclusion","age":7.57,"fit":2.49,"lo":1.76,"hi":3.22},
{"m":"child","c":"Germany","g":"control","age":4.02,"fit":3.38,"lo":2.92,"hi":3.87},
{"m":"child","c":"Germany","g":"control","age":4.5,"fit":3.45,"lo":3.10,"hi":3.80},
{"m":"child","c":"Germany","g":"control","age":5.0,"fit":3.53,"lo":3.28,"hi":3.78},
{"m":"child","c":"Germany","g":"control","age":5.5,"fit":3.60,"lo":3.40,"hi":3.80},
{"m":"child","c":"Germany","g":"control","age":6.0,"fit":3.68,"lo":3.45,"hi":3.91},
{"m":"child","c":"Germany","g":"control","age":6.5,"fit":3.75,"lo":3.45,"hi":4.05},
{"m":"child","c":"Germany","g":"control","age":7.0,"fit":3.83,"lo":3.42,"hi":4.22},
{"m":"child","c":"Germany","g":"exclusion","age":3.87,"fit":3.72,"lo":3.27,"hi":4.13},
{"m":"child","c":"Germany","g":"exclusion","age":4.5,"fit":3.70,"lo":3.43,"hi":3.97},
{"m":"child","c":"Germany","g":"exclusion","age":5.0,"fit":3.69,"lo":3.52,"hi":3.86},
{"m":"child","c":"Germany","g":"exclusion","age":5.5,"fit":3.68,"lo":3.55,"hi":3.81},
{"m":"child","c":"Germany","g":"exclusion","age":6.0,"fit":3.67,"lo":3.53,"hi":3.81},
{"m":"child","c":"Germany","g":"exclusion","age":6.5,"fit":3.66,"lo":3.45,"hi":3.87},
{"m":"child","c":"Germany","g":"exclusion","age":7.0,"fit":3.64,"lo":3.29,"hi":4.0},
{"m":"child","c":"New Zealand","g":"control","age":4.1,"fit":3.08,"lo":2.56,"hi":3.57},
{"m":"child","c":"New Zealand","g":"control","age":4.6,"fit":3.18,"lo":2.82,"hi":3.54},
{"m":"child","c":"New Zealand","g":"control","age":5.0,"fit":3.25,"lo":2.98,"hi":3.52},
{"m":"child","c":"New Zealand","g":"control","age":5.5,"fit":3.35,"lo":3.13,"hi":3.57},
{"m":"child","c":"New Zealand","g":"control","age":6.0,"fit":3.45,"lo":3.20,"hi":3.70},
{"m":"child","c":"New Zealand","g":"control","age":6.4,"fit":3.52,"lo":3.20,"hi":3.84},
{"m":"child","c":"New Zealand","g":"control","age":6.85,"fit":3.61,"lo":3.07,"hi":4.15},
{"m":"child","c":"New Zealand","g":"exclusion","age":4.1,"fit":4.15,"lo":3.57,"hi":4.73},
{"m":"child","c":"New Zealand","g":"exclusion","age":4.6,"fit":3.94,"lo":3.52,"hi":4.36},
{"m":"child","c":"New Zealand","g":"exclusion","age":5.0,"fit":3.76,"lo":3.45,"hi":4.07},
{"m":"child","c":"New Zealand","g":"exclusion","age":5.5,"fit":3.55,"lo":3.30,"hi":3.80},
{"m":"child","c":"New Zealand","g":"exclusion","age":6.0,"fit":3.34,"lo":3.06,"hi":3.62},
{"m":"child","c":"New Zealand","g":"exclusion","age":6.4,"fit":3.17,"lo":2.80,"hi":3.54},
{"m":"child","c":"New Zealand","g":"exclusion","age":6.69,"fit":3.04,"lo":2.56,"hi":3.52},
{"m":"incl","c":"Cyprus","g":"control","age":4.47,"fit":0.452,"lo":0.176,"hi":0.763},
{"m":"incl","c":"Cyprus","g":"control","age":5.0,"fit":0.40,"lo":0.19,"hi":0.62},
{"m":"incl","c":"Cyprus","g":"control","age":5.5,"fit":0.35,"lo":0.19,"hi":0.53},
{"m":"incl","c":"Cyprus","g":"control","age":6.0,"fit":0.30,"lo":0.175,"hi":0.46},
{"m":"incl","c":"Cyprus","g":"control","age":6.5,"fit":0.255,"lo":0.14,"hi":0.44},
{"m":"incl","c":"Cyprus","g":"control","age":7.0,"fit":0.215,"lo":0.10,"hi":0.45},
{"m":"incl","c":"Cyprus","g":"control","age":7.58,"fit":0.18,"lo":0.046,"hi":0.49},
{"m":"incl","c":"Cyprus","g":"exclusion","age":4.26,"fit":0.337,"lo":0.10,"hi":0.70},
{"m":"incl","c":"Cyprus","g":"exclusion","age":5.0,"fit":0.326,"lo":0.15,"hi":0.55},
{"m":"incl","c":"Cyprus","g":"exclusion","age":5.5,"fit":0.319,"lo":0.17,"hi":0.49},
{"m":"incl","c":"Cyprus","g":"exclusion","age":6.0,"fit":0.312,"lo":0.175,"hi":0.465},
{"m":"incl","c":"Cyprus","g":"exclusion","age":6.5,"fit":0.305,"lo":0.16,"hi":0.47},
{"m":"incl","c":"Cyprus","g":"exclusion","age":7.0,"fit":0.297,"lo":0.13,"hi":0.53},
{"m":"incl","c":"Cyprus","g":"exclusion","age":7.57,"fit":0.289,"lo":0.093,"hi":0.615},
{"m":"incl","c":"Germany","g":"control","age":4.01,"fit":0.40,"lo":0.13,"hi":0.758},
{"m":"incl","c":"Germany","g":"control","age":4.5,"fit":0.415,"lo":0.20,"hi":0.68},
{"m":"incl","c":"Germany","g":"control","age":5.0,"fit":0.43,"lo":0.25,"hi":0.63},
{"m":"incl","c":"Germany","g":"control","age":5.5,"fit":0.445,"lo":0.29,"hi":0.61},
{"m":"incl","c":"Germany","g":"control","age":6.0,"fit":0.46,"lo":0.30,"hi":0.62},
{"m":"incl","c":"Germany","g":"control","age":6.5,"fit":0.475,"lo":0.28,"hi":0.68},
{"m":"incl","c":"Germany","g":"control","age":7.0,"fit":0.49,"lo":0.227,"hi":0.773},
{"m":"incl","c":"Germany","g":"exclusion","age":3.86,"fit":0.48,"lo":0.14,"hi":0.844},
{"m":"incl","c":"Germany","g":"exclusion","age":4.5,"fit":0.505,"lo":0.25,"hi":0.75},
{"m":"incl","c":"Germany","g":"exclusion","age":5.0,"fit":0.527,"lo":0.33,"hi":0.70},
{"m":"incl","c":"Germany","g":"exclusion","age":5.5,"fit":0.548,"lo":0.38,"hi":0.68},
{"m":"incl","c":"Germany","g":"exclusion","age":6.0,"fit":0.569,"lo":0.39,"hi":0.70},
{"m":"incl","c":"Germany","g":"exclusion","age":6.5,"fit":0.59,"lo":0.36,"hi":0.76},
{"m":"incl","c":"Germany","g":"exclusion","age":7.0,"fit":0.61,"lo":0.318,"hi":0.844},
{"m":"incl","c":"New Zealand","g":"control","age":4.1,"fit":0.80,"lo":0.444,"hi":0.946},
{"m":"incl","c":"New Zealand","g":"control","age":4.5,"fit":0.73,"lo":0.43,"hi":0.898},
{"m":"incl","c":"New Zealand","g":"control","age":5.0,"fit":0.62,"lo":0.40,"hi":0.773},
{"m":"incl","c":"New Zealand","g":"control","age":5.5,"fit":0.465,"lo":0.27,"hi":0.649},
{"m":"incl","c":"New Zealand","g":"control","age":6.0,"fit":0.335,"lo":0.15,"hi":0.574},
{"m":"incl","c":"New Zealand","g":"control","age":6.5,"fit":0.227,"lo":0.08,"hi":0.552},
{"m":"incl","c":"New Zealand","g":"control","age":6.85,"fit":0.173,"lo":0.037,"hi":0.541},
{"m":"incl","c":"New Zealand","g":"exclusion","age":4.1,"fit":0.682,"lo":0.297,"hi":0.909},
{"m":"incl","c":"New Zealand","g":"exclusion","age":4.6,"fit":0.687,"lo":0.38,"hi":0.885},
{"m":"incl","c":"New Zealand","g":"exclusion","age":5.0,"fit":0.69,"lo":0.433,"hi":0.872},
{"m":"incl","c":"New Zealand","g":"exclusion","age":5.5,"fit":0.695,"lo":0.465,"hi":0.868},
{"m":"incl","c":"New Zealand","g":"exclusion","age":6.0,"fit":0.70,"lo":0.45,"hi":0.875},
{"m":"incl","c":"New Zealand","g":"exclusion","age":6.4,"fit":0.705,"lo":0.41,"hi":0.89},
{"m":"incl","c":"New Zealand","g":"exclusion","age":6.69,"fit":0.708,"lo":0.368,"hi":0.909}
],
"strips": [{"c":"Cyprus"},{"c":"Germany"},{"c":"New Zealand"}]
},
"resolve": {"scale": {"x": "independent", "y": "independent", "color": "independent", "fill": "independent", "stroke": "independent"}},
"spacing": 16,
"vconcat": [
{
  "title": {"text": "video content"},
  "spacing": -25,
  "vconcat": [
    {"data": {"name": "strips"}, "facet": {"column": {"field": "c", "type": "nominal", "header": {"title": null, "labels": false}}}, "spacing": 24,
     "spec": {"width": 225, "height": 53, "layer": [
       {"mark": {"type": "rect", "fill": "white", "stroke": "black", "strokeWidth": 2}},
       {"mark": {"type": "text", "fontSize": 24, "font": "Liberation Serif", "color": "black"}, "encoding": {"text": {"field": "c"}}}]}},
    {"data": {"name": "d"}, "transform": [{"filter": "datum.m === 'video'"}], "facet": {"column": {"field": "c", "type": "nominal", "header": {"title": null, "labels": false}}}, "spacing": 24,
     "spec": {"width": 225, "height": 170,
      "encoding": {"x": {"field": "age", "type": "quantitative", "scale": {"domain": [3.7, 7.75], "nice": false, "zero": false}, "axis": {"title": "age", "values": [4, 5, 6, 7]}}},
      "layer": [
        {"transform": [{"filter": "isValid(datum.v)"}], "mark": {"type": "circle", "size": 14, "opacity": 0.85}, "encoding": {"y": {"field": "v", "type": "quantitative", "scale": {"domain": [-0.05, 1.05], "nice": false, "zero": false}, "axis": {"title": "exclusive content (y/n)", "values": [0, 1]}}, "color": {"field": "g", "type": "nominal", "scale": {"domain": ["control", "exclusion"], "range": ["#1f77b4", "#ff7f0e"]}, "legend": null}}},
        {"transform": [{"filter": "isValid(datum.fit) && datum.g === 'control'"}], "mark": {"type": "area", "color": "#1f77b4", "opacity": 0.4, "clip": true}, "encoding": {"y": {"field": "lo", "type": "quantitative", "title": "exclusive content (y/n)"}, "y2": {"field": "hi"}}},
        {"transform": [{"filter": "isValid(datum.fit) && datum.g === 'control'"}], "mark": {"type": "line", "color": "#1f77b4", "strokeWidth": 4, "clip": true}, "encoding": {"y": {"field": "fit", "type": "quantitative", "title": "exclusive content (y/n)"}}},
        {"transform": [{"filter": "isValid(datum.fit) && datum.g === 'exclusion'"}], "mark": {"type": "area", "color": "#ff7f0e", "opacity": 0.4, "clip": true}, "encoding": {"y": {"field": "lo", "type": "quantitative", "title": "exclusive content (y/n)"}, "y2": {"field": "hi"}}},
        {"transform": [{"filter": "isValid(datum.fit) && datum.g === 'exclusion'"}], "mark": {"type": "line", "color": "#ff7f0e", "strokeWidth": 4, "clip": true}, "encoding": {"y": {"field": "fit", "type": "quantitative", "title": "exclusive content (y/n)"}}}
      ]}}
  ]
},
{
  "title": {"text": "agent’s mood"},
  "spacing": -8,
  "vconcat": [
    {"data": {"name": "strips"}, "facet": {"column": {"field": "c", "type": "nominal", "header": {"title": null, "labels": false}}}, "spacing": 24,
     "spec": {"width": 225, "height": 53, "layer": [
       {"mark": {"type": "rect", "fill": "white", "stroke": "black", "strokeWidth": 2}},
       {"mark": {"type": "text", "fontSize": 24, "font": "Liberation Serif", "color": "black"}, "encoding": {"text": {"field": "c"}}}]}},
    {"data": {"name": "d"}, "transform": [{"filter": "datum.m === 'agent'"}], "facet": {"column": {"field": "c", "type": "nominal", "header": {"title": null, "labels": false}}}, "spacing": 24,
     "spec": {"width": 225, "height": 170,
      "encoding": {"x": {"field": "age", "type": "quantitative", "scale": {"domain": [3.7, 7.75], "nice": false, "zero": false}, "axis": {"title": "age", "values": [4, 5, 6, 7]}}},
      "layer": [
        {"transform": [{"filter": "isValid(datum.v)"}], "mark": {"type": "circle", "size": 14, "opacity": 0.85}, "encoding": {"y": {"field": "v", "type": "quantitative", "scale": {"domain": [-0.2, 4.2], "nice": false, "zero": false}, "axis": {"title": "mood rating agent", "values": [0, 1, 2, 3, 4]}}, "color": {"field": "g", "type": "nominal", "scale": {"domain": ["control", "exclusion"], "range": ["#1f77b4", "#ff7f0e"]}, "legend": null}}},
        {"transform": [{"filter": "isValid(datum.fit) && datum.g === 'control'"}], "mark": {"type": "area", "color": "#1f77b4", "opacity": 0.4, "clip": true}, "encoding": {"y": {"field": "lo", "type": "quantitative", "title": "mood rating agent"}, "y2": {"field": "hi"}}},
        {"transform": [{"filter": "isValid(datum.fit) && datum.g === 'control'"}], "mark": {"type": "line", "color": "#1f77b4", "strokeWidth": 4, "clip": true}, "encoding": {"y": {"field": "fit", "type": "quantitative", "title": "mood rating agent"}}},
        {"transform": [{"filter": "isValid(datum.fit) && datum.g === 'exclusion'"}], "mark": {"type": "area", "color": "#ff7f0e", "opacity": 0.4, "clip": true}, "encoding": {"y": {"field": "lo", "type": "quantitative", "title": "mood rating agent"}, "y2": {"field": "hi"}}},
        {"transform": [{"filter": "isValid(datum.fit) && datum.g === 'exclusion'"}], "mark": {"type": "line", "color": "#ff7f0e", "strokeWidth": 4, "clip": true}, "encoding": {"y": {"field": "fit", "type": "quantitative", "title": "mood rating agent"}}}
      ]}}
  ]
},
{
  "title": {"text": "children’s mood"},
  "spacing": -6,
  "vconcat": [
    {"data": {"name": "strips"}, "facet": {"column": {"field": "c", "type": "nominal", "header": {"title": null, "labels": false}}}, "spacing": 24,
     "spec": {"width": 225, "height": 53, "layer": [
       {"mark": {"type": "rect", "fill": "white", "stroke": "black", "strokeWidth": 2}},
       {"mark": {"type": "text", "fontSize": 24, "font": "Liberation Serif", "color": "black"}, "encoding": {"text": {"field": "c"}}}]}},
    {"data": {"name": "d"}, "transform": [{"filter": "datum.m === 'child'"}], "facet": {"column": {"field": "c", "type": "nominal", "header": {"title": null, "labels": false}}}, "spacing": 24,
     "spec": {"width": 225, "height": 170,
      "encoding": {"x": {"field": "age", "type": "quantitative", "scale": {"domain": [3.7, 7.75], "nice": false, "zero": false}, "axis": {"title": "age", "values": [4, 5, 6, 7]}}},
      "layer": [
        {"transform": [{"filter": "isValid(datum.v)"}], "mark": {"type": "circle", "size": 14, "opacity": 0.85}, "encoding": {"y": {"field": "v", "type": "quantitative", "scale": {"domain": [-0.2, 4.2], "nice": false, "zero": false}, "axis": {"title": "mood rating child", "values": [0, 1, 2, 3, 4]}}, "color": {"field": "g", "type": "nominal", "scale": {"domain": ["control", "exclusion"], "range": ["#1f77b4", "#ff7f0e"]}, "legend": null}}},
        {"transform": [{"filter": "isValid(datum.fit) && datum.g === 'control'"}], "mark": {"type": "area", "color": "#1f77b4", "opacity": 0.4, "clip": true}, "encoding": {"y": {"field": "lo", "type": "quantitative", "title": "mood rating child"}, "y2": {"field": "hi"}}},
        {"transform": [{"filter": "isValid(datum.fit) && datum.g === 'control'"}], "mark": {"type": "line", "color": "#1f77b4", "strokeWidth": 4, "clip": true}, "encoding": {"y": {"field": "fit", "type": "quantitative", "title": "mood rating child"}}},
        {"transform": [{"filter": "isValid(datum.fit) && datum.g === 'exclusion'"}], "mark": {"type": "area", "color": "#ff7f0e", "opacity": 0.4, "clip": true}, "encoding": {"y": {"field": "lo", "type": "quantitative", "title": "mood rating child"}, "y2": {"field": "hi"}}},
        {"transform": [{"filter": "isValid(datum.fit) && datum.g === 'exclusion'"}], "mark": {"type": "line", "color": "#ff7f0e", "strokeWidth": 4, "clip": true}, "encoding": {"y": {"field": "fit", "type": "quantitative", "title": "mood rating child"}}}
      ]}}
  ]
},
{
  "title": {"text": "inclusion of out-group member"},
  "spacing": -4,
  "vconcat": [
    {"data": {"name": "strips"}, "facet": {"column": {"field": "c", "type": "nominal", "header": {"title": null, "labels": false}}}, "spacing": 24,
     "spec": {"width": 225, "height": 53, "layer": [
       {"mark": {"type": "rect", "fill": "white", "stroke": "black", "strokeWidth": 2}},
       {"mark": {"type": "text", "fontSize": 24, "font": "Liberation Serif", "color": "black"}, "encoding": {"text": {"field": "c"}}}]}},
    {"data": {"name": "d"}, "transform": [{"filter": "datum.m === 'incl'"}], "facet": {"column": {"field": "c", "type": "nominal", "header": {"title": null, "labels": false}}}, "spacing": 24,
     "spec": {"width": 225, "height": 170,
      "encoding": {"x": {"field": "age", "type": "quantitative", "scale": {"domain": [3.7, 7.75], "nice": false, "zero": false}, "axis": {"title": "age", "values": [4, 5, 6, 7]}}},
      "layer": [
        {"transform": [{"filter": "isValid(datum.v)"}], "mark": {"type": "circle", "size": 14, "opacity": 0.85}, "encoding": {"y": {"field": "v", "type": "quantitative", "scale": {"domain": [-0.05, 1.05], "nice": false, "zero": false}, "axis": {"title": "inclusion (y/n)", "values": [0, 1]}}, "color": {"field": "g", "type": "nominal", "scale": {"domain": ["control", "exclusion"], "range": ["#1f77b4", "#ff7f0e"]}, "legend": null}}},
        {"transform": [{"filter": "isValid(datum.fit) && datum.g === 'control'"}], "mark": {"type": "area", "color": "#1f77b4", "opacity": 0.4, "clip": true}, "encoding": {"y": {"field": "lo", "type": "quantitative", "title": "inclusion (y/n)"}, "y2": {"field": "hi"}}},
        {"transform": [{"filter": "isValid(datum.fit) && datum.g === 'control'"}], "mark": {"type": "line", "color": "#1f77b4", "strokeWidth": 4, "clip": true}, "encoding": {"y": {"field": "fit", "type": "quantitative", "title": "inclusion (y/n)"}}},
        {"transform": [{"filter": "isValid(datum.fit) && datum.g === 'exclusion'"}], "mark": {"type": "area", "color": "#ff7f0e", "opacity": 0.4, "clip": true}, "encoding": {"y": {"field": "lo", "type": "quantitative", "title": "inclusion (y/n)"}, "y2": {"field": "hi"}}},
        {"transform": [{"filter": "isValid(datum.fit) && datum.g === 'exclusion'"}], "mark": {"type": "line", "color": "#ff7f0e", "strokeWidth": 4, "clip": true}, "encoding": {"y": {"field": "fit", "type": "quantitative", "title": "inclusion (y/n)"}}}
      ]}}
  ]
},
{
  "width": 723, "height": 118,
  "data": {"values": [{"g": "condition"}, {"g": "control"}, {"g": "exclusion"}]},
  "encoding": {"x": {"field": "g", "type": "nominal", "scale": {"type": "band", "domain": ["condition", "control", "exclusion"], "paddingInner": 0, "paddingOuter": 0.718, "align": 0.058}, "axis": null}},
  "layer": [
    {"transform": [{"filter": "datum.g !== 'condition'"}], "mark": {"type": "point", "shape": "square", "size": 4900, "filled": true, "stroke": "black", "strokeWidth": 3.5, "opacity": 1}, "encoding": {"fill": {"field": "g", "type": "nominal", "scale": {"domain": ["control", "exclusion"], "range": ["#a5c9e1", "#ffcc9f"]}, "legend": null}}},
    {"transform": [{"filter": "datum.g !== 'condition'"}], "mark": {"type": "point", "shape": "M-1,0L1,0", "size": 3025, "filled": false, "strokeWidth": 4, "opacity": 1}, "encoding": {"stroke": {"field": "g", "type": "nominal", "scale": {"domain": ["control", "exclusion"], "range": ["#1f77b4", "#ff7f0e"]}, "legend": null}}},
    {"transform": [{"filter": "datum.g !== 'condition'"}], "mark": {"type": "text", "align": "left", "dx": 48, "fontSize": 24, "font": "Liberation Serif", "color": "black"}, "encoding": {"text": {"field": "g"}}},
    {"transform": [{"filter": "datum.g === 'condition'"}], "mark": {"type": "text", "align": "left", "dx": 23, "fontSize": 24, "font": "Liberation Serif", "color": "black"}, "encoding": {"text": {"field": "g"}}}
  ]
}
]
}
